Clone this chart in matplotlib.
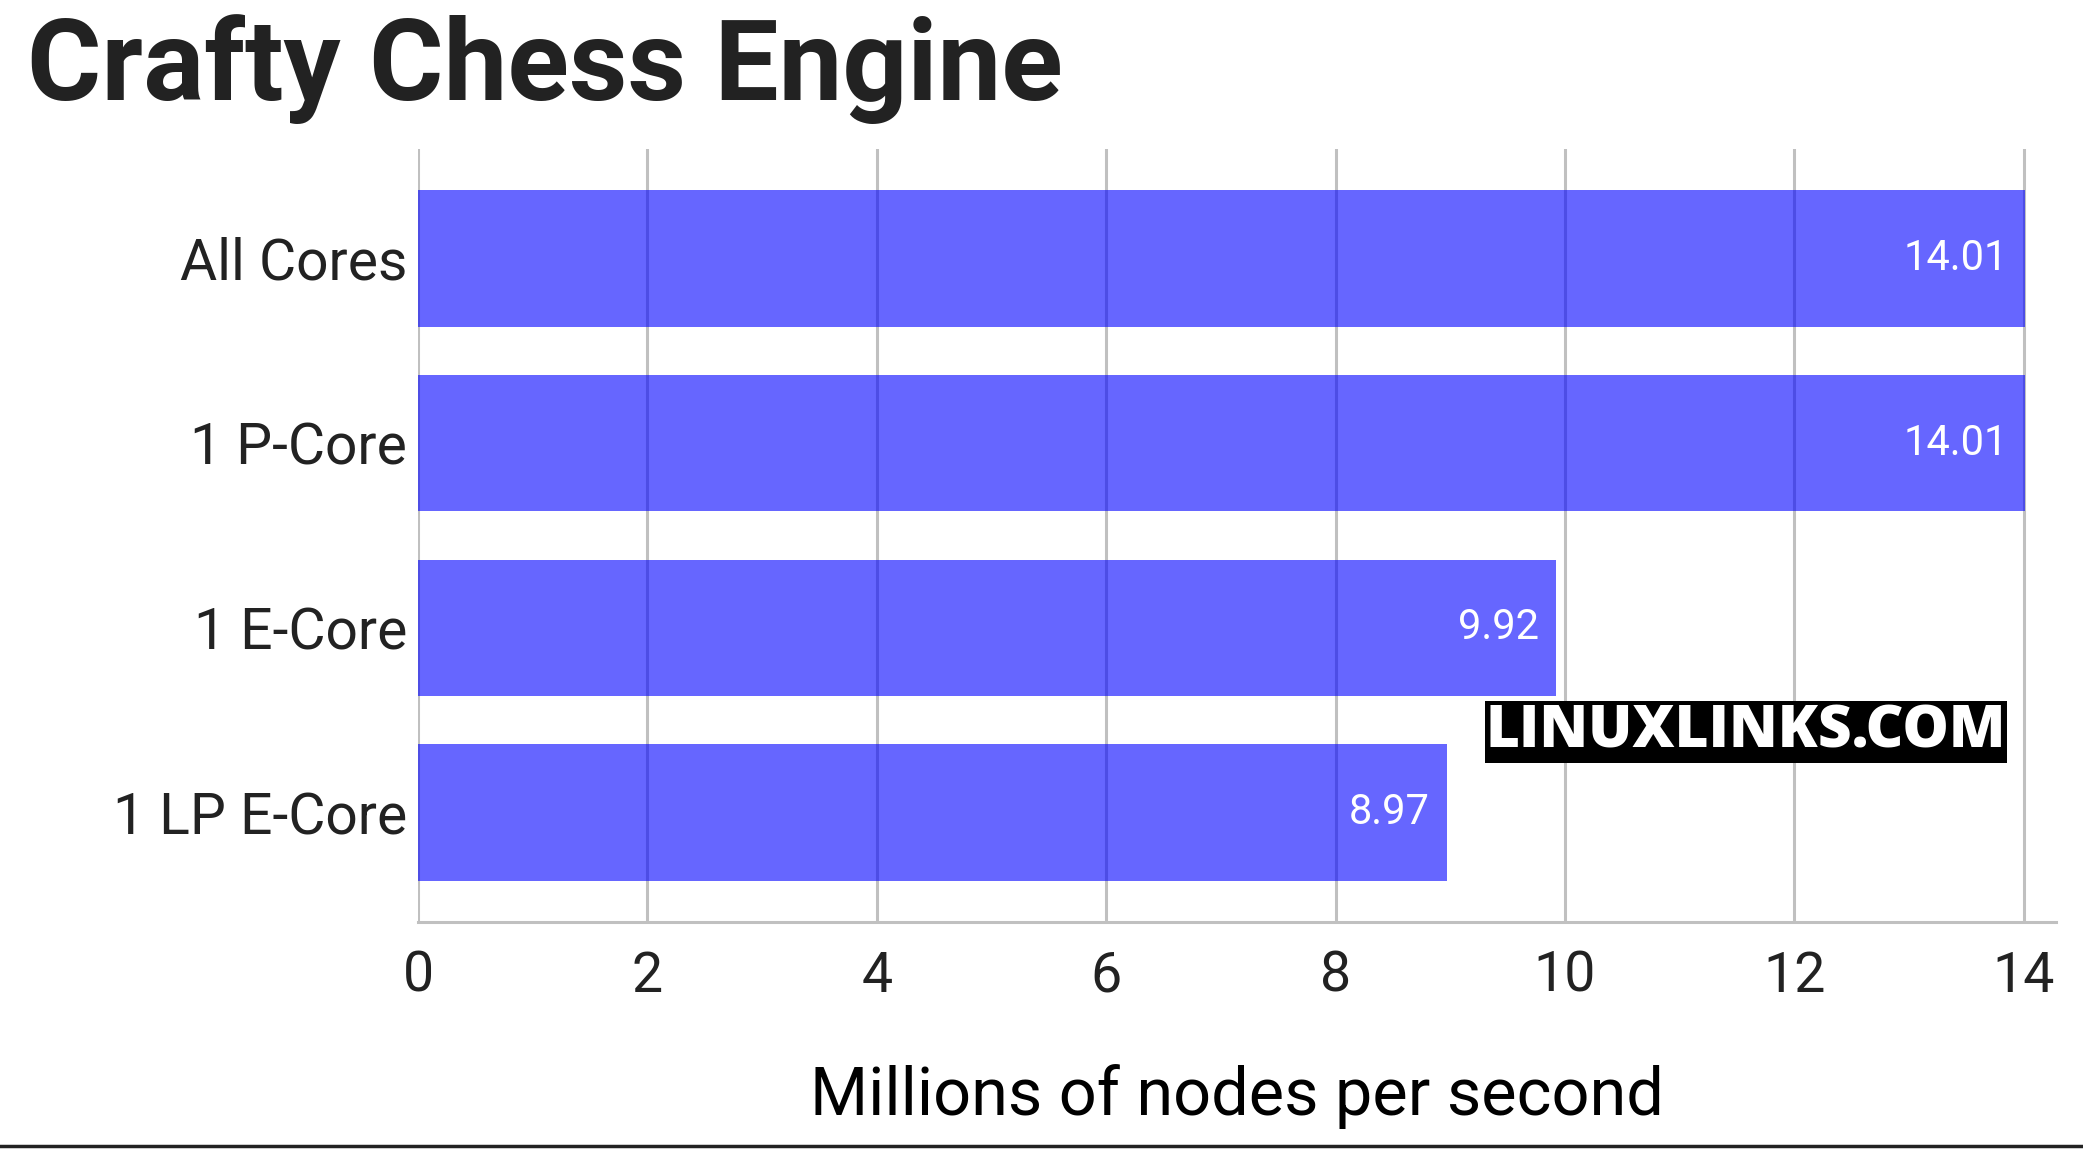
import matplotlib.pyplot as plt

categories = ['All Cores', '1 P-Core', '1 E-Core', '1 LP E-Core']
values = [14.01, 14.01, 9.92, 8.97]
value_labels = ['14.01', '14.01', '9.92', '8.97']
xticks = [0, 2, 4, 6, 8, 10, 12, 14]

FONT = ['Roboto', 'DejaVu Sans']
TXT = '#222222'
GRID = '#c0c0c0'

W, H = 2083, 1149
fig = plt.figure(figsize=(W / 100, H / 100), dpi=100)
ax = fig.add_axes([418 / W, 1 - 922 / H, (2056 - 418) / W, (922 - 149) / H])

y = list(range(len(categories)))
ax.barh(y, values, height=0.74, color='#0000ff', alpha=0.6, zorder=2)
ax.set_ylim(3.59, -0.59)
ax.set_xlim(0, 14.28)

ax.set_xticks(xticks)
ax.set_xticklabels([str(t) for t in xticks], family=FONT, fontsize=40, color=TXT)
ax.set_yticks(y)
ax.set_yticklabels(categories, family=FONT, fontsize=41, color=TXT)
ax.tick_params(axis='both', length=0)
ax.tick_params(axis='x', pad=20)
ax.tick_params(axis='y', pad=8)

ax.grid(axis='x', color=GRID, linewidth=2.2, zorder=1)
ax.set_axisbelow(True)
for s in ['top', 'right', 'left']:
    ax.spines[s].set_visible(False)
ax.spines['bottom'].set_color(GRID)
ax.spines['bottom'].set_linewidth(2.2)

for yi, v, lab in zip(y, values, value_labels):
    ax.text(v - 0.15, yi, lab, ha='right', va='center', color='white',
            family=FONT, fontsize=30, zorder=3)

ax.set_xlabel('Millions of nodes per second', family=FONT, fontsize=48,
              color='black', labelpad=44)

fig.text(27 / W, 1 - 100 / H, 'Crafty Chess Engine', family=FONT,
         fontsize=82, fontweight='bold', color=TXT, ha='left', va='baseline')

fig.text(1746 / W, 1 - 732 / H, 'LINUXLINKS.COM', family=['Open Sans', 'DejaVu Sans'],
         fontsize=42, fontweight='heavy', color='white', ha='center', va='center',
         bbox=dict(facecolor='black', edgecolor='none', boxstyle='square,pad=0.02'))

fig.add_artist(plt.Line2D([0, 1], [1 - 1146 / H, 1 - 1146 / H], color='#222222',
                          linewidth=2.5, transform=fig.transFigure))

fig.savefig('out.png', dpi=100)
